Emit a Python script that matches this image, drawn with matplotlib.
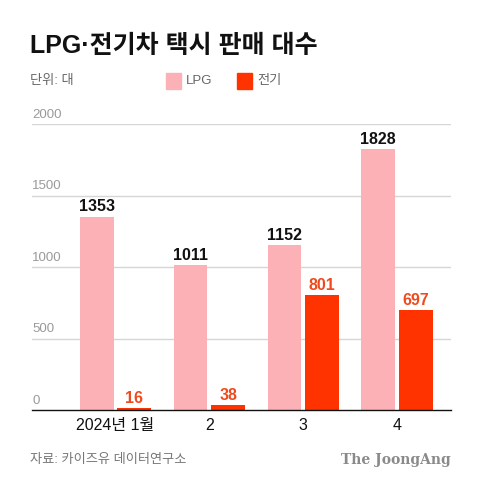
import matplotlib
matplotlib.use("Agg")
import matplotlib.pyplot as plt
import numpy as np

months = ["2024년 1월", "2", "3", "4"]
lpg = [1353, 1011, 1152, 1828]
ev = [16, 38, 801, 697]
yticks = [0, 500, 1000, 1500, 2000]

plt.rcParams['font.family'] = ['Liberation Sans', 'Noto Sans CJK KR', 'DejaVu Sans']

lpg_color = '#fbb1b5'
ev_color = '#ff3300'
ev_text = '#ef4a1e'

fig = plt.figure(figsize=(4.8, 4.87), dpi=100)
ax = fig.add_axes([0.0667, 0.158, 0.873, 0.5874])

x = np.arange(len(months))
w = 0.36
b1 = ax.bar(x - 0.2, lpg, width=w, color=lpg_color, zorder=3)
b2 = ax.bar(x + 0.2, ev, width=w, color=ev_color, zorder=3)

for rect, v in zip(b1, lpg):
    ax.annotate(str(v), (rect.get_x() + rect.get_width() / 2, v), xytext=(0, 1.5),
                textcoords='offset points', ha='center', va='bottom',
                fontsize=11.5, fontweight='bold', color='#111111')
for rect, v in zip(b2, ev):
    ax.annotate(str(v), (rect.get_x() + rect.get_width() / 2, v), xytext=(0, 1.5),
                textcoords='offset points', ha='center', va='bottom',
                fontsize=11.5, fontweight='bold', color=ev_text)

ax.set_xlim(-0.89, 3.576)
ax.set_ylim(0, 2000)
ax.set_yticks(yticks)
ax.set_yticklabels([])
ax.tick_params(axis='y', length=0)
for t in yticks:
    if t > 0:
        ax.axhline(t, color='#d6d6d6', lw=1, zorder=1)
    ax.text(-0.89, t + 22, str(t), ha='left', va='bottom', fontsize=9.5, color='#9a9a9a')

ax.set_xticks(x)
ax.set_xticklabels(months, fontsize=11.5, color='#111111')
ax.tick_params(axis='x', length=0, pad=6)

for s in ['top', 'right', 'left']:
    ax.spines[s].set_visible(False)
ax.spines['bottom'].set_color('#111111')
ax.spines['bottom'].set_linewidth(1)
ax.spines['bottom'].set_zorder(4)

# title and header
fig.text(0.0625, 1 - 46 / 487, "LPG·전기차 택시 판매 대수", fontsize=18, fontweight='bold',
         ha='left', va='center', color='#111111')
fig.text(0.0625, 1 - 81 / 487, "단위: 대", fontsize=9.5, ha='left', va='center', color='#666666')

fig.patches.append(plt.Rectangle((166 / 480, 1 - 89 / 487), 15 / 480, 16 / 487,
                                 transform=fig.transFigure, color=lpg_color))
fig.text(186 / 480, 1 - 81 / 487, "LPG", fontsize=9.5, ha='left', va='center', color='#666666')
fig.patches.append(plt.Rectangle((237 / 480, 1 - 89 / 487), 15 / 480, 16 / 487,
                                 transform=fig.transFigure, color=ev_color))
fig.text(257 / 480, 1 - 81 / 487, "전기", fontsize=9.5, ha='left', va='center', color='#666666')

# footer
fig.text(0.0625, 1 - 460 / 487, "자료: 카이즈유 데이터연구소", fontsize=9.5, ha='left', va='center',
         color='#777777')
fig.text(451 / 480, 1 - 460 / 487, "The JoongAng", fontsize=10, fontweight='bold',
         family='DejaVu Serif', ha='right', va='center', color='#8a8a8a')

fig.savefig("out.png", dpi=100, facecolor='white')
